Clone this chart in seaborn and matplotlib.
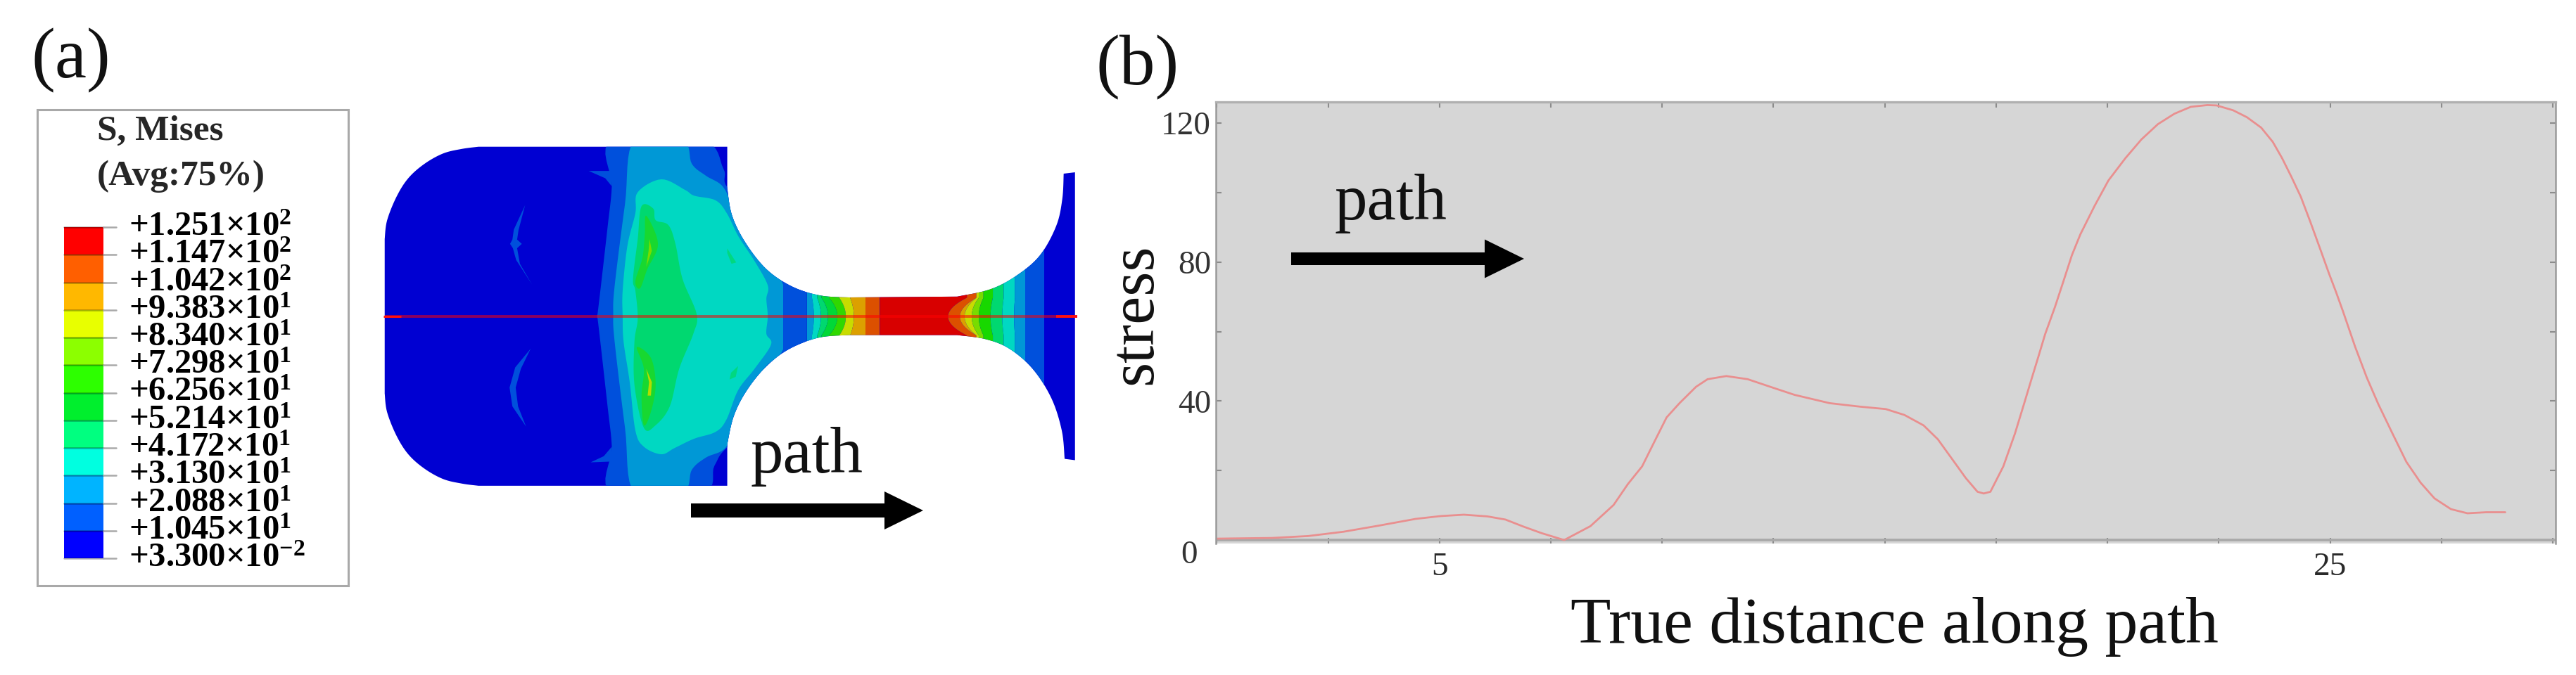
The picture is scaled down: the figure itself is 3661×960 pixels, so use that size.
import numpy as np
import seaborn as sns
import matplotlib.pyplot as plt
from matplotlib.colors import ListedColormap
from matplotlib.patches import PathPatch, Rectangle
from matplotlib.path import Path
from matplotlib.transforms import ScaledTranslation

# stress along the path
distance = [0, 1.24, 2.05, 2.85, 3.66, 4.47, 5.03, 5.55, 6.08, 6.48, 6.88, 7.29, 7.8,
            8.39, 8.91, 9.23, 9.55, 9.81, 10.1, 10.39, 10.76, 11.02, 11.44, 11.92, 12.5,
            12.97, 13.76, 14.44, 15.02, 15.44, 15.87, 16.19, 16.5, 16.82, 17.08, 17.22, 17.37,
            17.66, 17.92, 18.13, 18.29, 18.45, 18.6, 18.82, 19.01, 19.2, 19.39, 19.71, 20.02,
            20.4, 20.76, 21.13, 21.5, 21.87, 22.24, 22.45, 22.82, 23.13, 23.45, 23.71, 23.92,
            24.13, 24.34, 24.55, 24.76, 24.97, 25.13, 25.29, 25.56, 25.82, 26.08, 26.4, 26.71,
            27.03, 27.34, 27.71, 28.08, 28.5, 28.93]
stress = [0.4, 0.6, 1.15, 2.4, 4.2, 6.1, 6.9, 7.3, 6.8, 5.9, 3.9, 2.0, 0.0,
          4.0, 10.1, 16.1, 21.2, 27.9, 35.3, 39.4, 44.1, 46.3, 47.2, 46.3, 43.8,
          41.8, 39.4, 38.4, 37.7, 36.0, 33.0, 29.0, 23.5, 17.8, 13.9, 13.4, 13.9,
          21.2, 30.6, 39.4, 46.2, 52.9, 59.3, 67.1, 74.5, 82.0, 88.0, 96.2, 103.5,
          109.9, 115.3, 119.7, 122.7, 124.7, 125.2, 125.1, 123.7, 121.7, 118.7, 114.6, 109.9,
          104.5, 98.8, 91.7, 84.3, 76.8, 71.4, 65.7, 55.6, 46.8, 39.1, 30.6, 22.5,
          16.5, 12.0, 8.9, 7.7, 8.0, 8.0]
y_ticks = [0, 40, 80, 120]
y_tick_labels = ['0', '40', '80', '120']
x_ticks = [0, 2.5, 5, 7.5, 10, 12.5, 15, 17.5, 20, 22.5, 25, 27.5, 30]
x_tick_labels = ['', '', '5', '', '', '', '', '', '', '', '25', '', '']

# contour legend of panel (a)
legend_labels = ['+1.251$\\times$10$^{2}$', '+1.147$\\times$10$^{2}$', '+1.042$\\times$10$^{2}$',
                 '+9.383$\\times$10$^{1}$', '+8.340$\\times$10$^{1}$', '+7.298$\\times$10$^{1}$',
                 '+6.256$\\times$10$^{1}$', '+5.214$\\times$10$^{1}$', '+4.172$\\times$10$^{1}$',
                 '+3.130$\\times$10$^{1}$', '+2.088$\\times$10$^{1}$', '+1.045$\\times$10$^{1}$',
                 '+3.300$\\times$10$^{-2}$']
legend_colors = ['#ff0000', '#ff5f00', '#ffb800', '#e8ff00', '#8cff00', '#2dff00',
                 '#00ef2d', '#00ff80', '#00ffe0', '#00b4ff', '#0060ff', '#0000ff']

# specimen outline pieces and contour bands, in units of the specimen box (0-1568)
edge_corner_top = [(25, 418), (30, 349), (50, 261), (75, 192), (109, 139), (149, 100), (189, 83), (224, 75)]
edge_cut_upper = [(752, 230), (762, 330), (790, 430), (835, 530), (890, 595), (950, 628), (1010, 635)]
edge_flare_upper = [(1240, 632), (1310, 605), (1365, 555), (1415, 480), (1450, 370), (1463, 270), (1466, 175)]
edge_flare_lower = [(1468, 1235), (1462, 1130), (1440, 1010), (1400, 900), (1350, 825), (1300, 790), (1240, 775)]
edge_cut_lower = [(1010, 775), (945, 785), (880, 830), (830, 900), (790, 990), (765, 1080), (752, 1180)]
edge_corner_bottom = [(224, 1335), (189, 1327), (149, 1310), (109, 1271), (75, 1218), (50, 1149), (30, 1061), (25, 992)]

color_base = '#0000d2'
band_blue = [(507, 50), (507, 222), (498, 374), (478, 679), (475, 705), (478, 730), (498, 1040), (507, 1190),
             (507, 1360), (699, 1360), (725, 1260), (760, 1180), (900, 1000), (900, 400), (760, 240), (744, 157),
             (699, 50)]
band_cyan = [(555, 50), (535, 287), (513, 592), (510, 697), (513, 800), (535, 1120), (555, 1360), (657, 1360),
             (677, 1275), (707, 1230), (750, 1190), (770, 1070), (795, 980), (835, 890), (870, 830), (880, 705),
             (870, 585), (845, 530), (800, 430), (770, 330), (744, 226), (707, 183), (677, 139), (657, 50)]
band_teal = [(612, 196), (662, 235), (682, 257), (727, 274), (751, 322), (776, 409), (810, 500), (838, 590),
             (835, 640), (838, 705), (835, 770), (845, 810), (810, 900), (775, 980), (750, 1090), (727, 1135),
             (682, 1160), (640, 1195), (612, 1218), (575, 1190), (557, 1130), (545, 950), (532, 800), (530, 705),
             (530, 610), (540, 444), (557, 322), (562, 244)]
band_green = [(570, 296), (595, 305), (600, 348), (627, 366), (642, 436), (657, 566), (687, 697), (680, 770),
              (650, 900), (630, 1040), (600, 1110), (575, 1120), (555, 960), (555, 800), (562, 713), (557, 610),
              (552, 566), (562, 418)]
sliver_upper = [(580, 331), (605, 436), (582, 531), (567, 601), (557, 575), (572, 488), (577, 401)]
sliver_lower = [(560, 820), (590, 860), (600, 960), (590, 1060), (575, 1110), (570, 1000), (575, 900)]
spot_upper = [(587, 418), (592, 462), (580, 522), (585, 462)]
spot_lower = [(580, 900), (592, 950), (590, 1000), (583, 1000), (586, 950)]
fleck_upper = [(752, 453), (771, 505), (761, 510), (752, 470)]
fleck_lower = [(775, 890), (770, 930), (757, 940), (760, 915)]
arc_upper = [(323, 292), (299, 383), (296, 420), (291, 436), (297, 452), (304, 496), (338, 588),
             (312, 510), (306, 452), (316, 436), (306, 420), (309, 385)]
arc_lower = [(335, 825), (302, 895), (290, 970), (296, 1040), (325, 1115), (308, 1040), (303, 970), (314, 900)]
hook_upper = [(458, 165), (507, 165), (507, 222), (493, 192)]
hook_lower = [(462, 1248), (490, 1225), (507, 1190), (507, 1245)]

neck_edges = [870, 920, 935, 950, 965, 985, 1003, 1020, 1045, 1075, 1220, 1245, 1255, 1270, 1285, 1310,
              1335, 1360, 1385, 1425]
neck_bows = [0, 0, -4, -8, -14, -18, -14, -8, 0, 0, 40, 35, 25, 15, 10, 5, 3, 2, 0, 0]
neck_colors = ['#0050dc', '#0098d6', '#00d8c2', '#00d870', '#00d838', '#30d800', '#c8dc00', '#dca000',
               '#dc5000', '#d80000', '#dc5000', '#dca000', '#c8dc00', '#78dc00', '#18d800', '#00d870',
               '#00d8c2', '#0098d6', '#0050dc']


def smooth(pts, closed=False, steps=8):
    # catmull-rom through the picked points, only for the drawing of the specimen
    pts = np.array(pts, dtype=float)
    n = len(pts)
    out = []
    for i in range(n if closed else n - 1):
        if closed:
            p0, p1, p2, p3 = pts[(i - 1) % n], pts[i], pts[(i + 1) % n], pts[(i + 2) % n]
        else:
            p0, p1, p2, p3 = pts[max(i - 1, 0)], pts[i], pts[i + 1], pts[min(i + 2, n - 1)]
        for t in np.linspace(0, 1, steps, endpoint=False):
            out.append(0.5 * (2 * p1 + (p2 - p0) * t + (2 * p0 - 5 * p1 + 4 * p2 - p3) * t ** 2
                              + (3 * p1 - p0 - 3 * p2 + p3) * t ** 3))
    if not closed:
        out.append(pts[-1])
    return np.array(out)


sns.set_style('white')
plt.rcParams['font.family'] = ['Liberation Serif', 'DejaVu Serif']
plt.rcParams['mathtext.fontset'] = 'custom'
plt.rcParams['mathtext.rm'] = 'Liberation Serif:bold'
plt.rcParams['mathtext.default'] = 'rm'

W, H = 3661, 960
fig = plt.figure(figsize=(W / 100, H / 100), dpi=100)


def axes_px(x0, y0, x1, y1):
    return fig.add_axes([x0 / W, 1 - y1 / H, (x1 - x0) / W, (y1 - y0) / H])


# panel (b)
ax = axes_px(1728, 145, 3632, 773)
ax.set_facecolor('#d6d6d6')
sns.lineplot(x=distance, y=stress, ax=ax, color='#e98f8f', lw=2.0, estimator=None, sort=False)
ax.axhline(0, color='#a8a8a8', lw=2.6, zorder=1)
ax.set_xlim(-0.02, 30.06)
ax.set_ylim(-1.0, 126.1)
ax.set_xticks(x_ticks)
ax.set_xticklabels(x_tick_labels, fontsize=34, color='#2a2a2a')
ax.set_yticks(y_ticks)
ax.set_yticklabels(y_tick_labels, fontsize=34, color='#333333')
ax.set_yticks(range(20, 121, 40), minor=True)
ax.tick_params(which='both', direction='in', length=5.5, width=1.5, color='#8c8c8c',
               top=True, right=True, bottom=True, left=True)
ax.tick_params(axis='x', pad=9)
ax.tick_params(axis='y', pad=5)
zero_label = ax.get_yticklabels()[0]
zero_label.set_va('top')
zero_label.set_transform(zero_label.get_transform() + ScaledTranslation(-0.19, 0, fig.dpi_scale_trans))
for side, col, lw in [('top', '#b0b0b0', 2.4), ('left', '#9a9a9a', 1.8), ('right', '#9a9a9a', 1.8)]:
    ax.spines[side].set_color(col)
    ax.spines[side].set_linewidth(lw)
ax.spines['bottom'].set_visible(False)

# specimen contour of panel (a)
sp = axes_px(530, 180, 1580, 780)
sp.set_xlim(0, 1568)
sp.set_ylim(1568, 0)
sp.axis('off')
outline = np.vstack([smooth(edge_corner_top), [(752, 75)], smooth(edge_cut_upper), smooth(edge_flare_upper),
                     [(1490, 170), (1490, 1240)], smooth(edge_flare_lower), smooth(edge_cut_lower),
                     [(752, 1335)], smooth(edge_corner_bottom)])
body = PathPatch(Path(np.vstack([outline, outline[0]]), closed=True), fc=color_base, ec='none')
sp.add_patch(body)


def band(pts, color, raw=False):
    xy = np.array(pts, dtype=float) if raw else smooth(pts, closed=True)
    for art in sp.fill(xy[:, 0], xy[:, 1], color=color, lw=0):
        art.set_clip_path(body)


band(band_blue, '#0050dc')
band(band_cyan, '#0098d6')
band(band_teal, '#00d8c2')
band(band_green, '#00d870')
band(sliver_upper, '#18d830')
band(sliver_lower, '#18d830')
band(spot_upper, '#78dc00', raw=True)
band(spot_lower, '#b4dc00', raw=True)
band(fleck_upper, '#00d880', raw=True)
band(fleck_lower, '#00d880', raw=True)
for pts in (arc_upper, arc_lower, hook_upper, hook_lower):
    band(pts, '#0050dc', raw=True)

rows = np.linspace(400, 1010, 300)
curve = np.clip(np.abs(rows - 705) / 70, 0, 1) ** 2
for i, col in enumerate(neck_colors):
    left = neck_edges[i] + neck_bows[i] * curve
    right = neck_edges[i + 1] + neck_bows[i + 1] * curve
    sp.fill_betweenx(rows, left, right, color=col, lw=0).set_clip_path(body)

sp.plot([25, 1450], [705, 705], color='#ff0000', lw=2.8, alpha=0.55, solid_capstyle='butt')
sp.plot([1450, 1495], [705, 705], color='#ff1010', lw=2.8, solid_capstyle='butt')
sp.plot([22, 60], [705, 705], color='#ff1010', lw=2.2, solid_capstyle='butt')

# legend colour bar
bar = axes_px(91, 323, 147, 794)
sns.heatmap(np.arange(12)[:, None], cmap=ListedColormap(legend_colors), cbar=False,
            xticklabels=False, yticklabels=False, ax=bar)

# everything else in pixel coordinates
top = fig.add_axes([0, 0, 1, 1], facecolor='none')
top.set_xlim(0, W)
top.set_ylim(H, 0)
top.axis('off')
top.add_patch(Rectangle((53, 156), 442, 677, fc='none', ec='#a9a9a9', lw=2.2))
top.text(138, 187, 'S, Mises', fontsize=37, fontweight='bold', va='center')
top.text(138, 251, '(Avg:75%)', fontsize=37, fontweight='bold', va='center')
for i, lab in enumerate(legend_labels):
    y = 323 + i * 39.25
    top.plot([91, 147], [y, y], color='#000000', alpha=0.3, lw=1.8)
    top.plot([147, 165], [y, y], color='#a9a9a9', lw=1.8)
    top.text(183, y, lab, fontsize=35, fontweight='bold', va='center', color='black')

top.text(45, 86, '(a)', fontsize=73, va='center', color='#111111')
top.text(1558, 96, '(b)', fontsize=73, va='center', color='#111111')
top.text(1147, 650, 'path', fontsize=67, ha='center', va='center', color='#111111')
top.text(1977, 290, 'path', fontsize=67, ha='center', va='center', color='#111111')
top.text(2692, 891, 'True distance along path', fontsize=67.5, ha='center', va='center', color='#111111')
top.text(1614, 447, 'stress', fontsize=65, rotation=90, ha='center', va='center', color='#111111')
top.arrow(982, 726, 330, 0, width=20, head_width=54, head_length=55, length_includes_head=True, color='black', lw=0)
top.arrow(1835, 368, 331, 0, width=18, head_width=55, head_length=56, length_includes_head=True, color='black', lw=0)

plt.savefig('out.png', dpi=100)
